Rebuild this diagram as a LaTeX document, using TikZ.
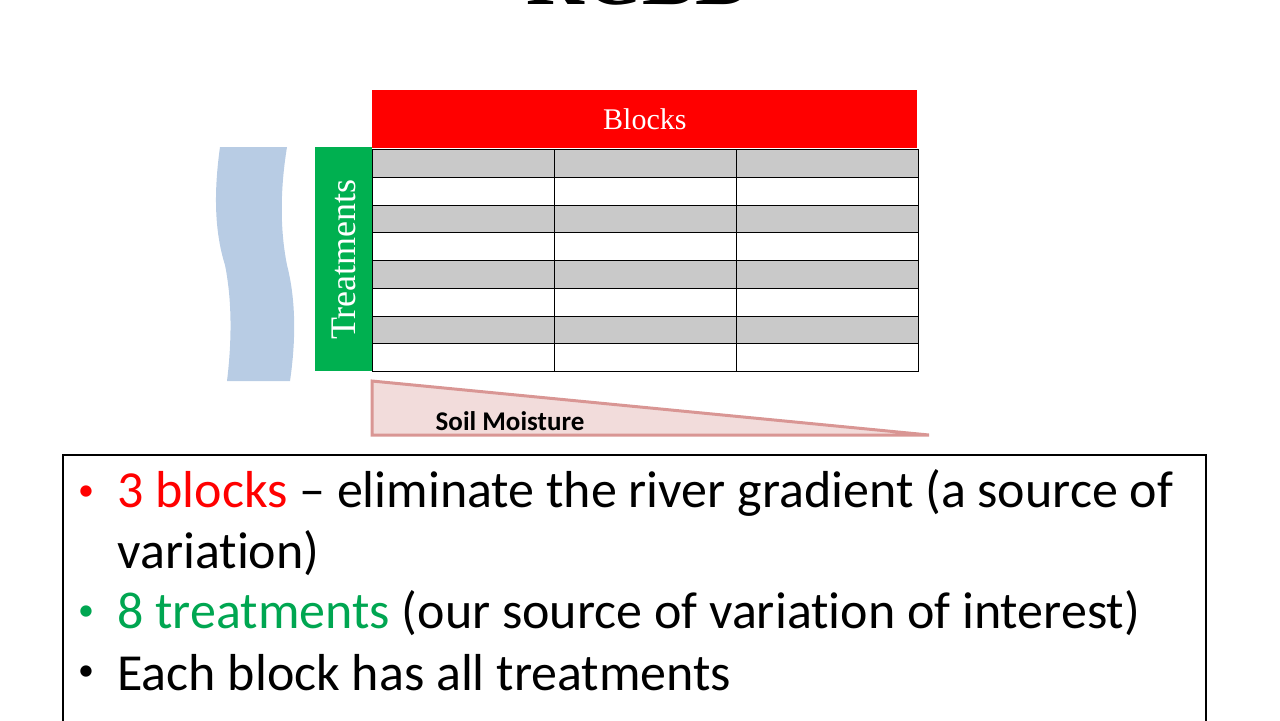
\documentclass[tikz,border=0pt]{standalone}
\usepackage{fontspec}
\setmainfont[Ligatures={NoCommon}]{Carlito}
\newfontfamily\titlefont{Liberation Serif}
\usepackage{tikz}
\definecolor{riverblue}{HTML}{B8CCE4}
\definecolor{cellgray}{HTML}{C9C9C9}
\definecolor{blockred}{HTML}{FF0000}
\definecolor{treatgreen}{HTML}{00B050}
\definecolor{soilfill}{HTML}{F2DCDB}
\definecolor{soilline}{HTML}{D99694}
\definecolor{txtgreen}{HTML}{00A651}
\tikzset{
  cell/.style={draw=black,line width=0.6pt,minimum width=91pt,minimum height=13.875pt,inner sep=0pt,anchor=north west},
  bullet/.style={anchor=west,inner sep=0pt,font=\fontsize{26}{30}\selectfont},
  dot/.style={inner sep=0pt,font=\fontsize{16}{16}\selectfont}
}
\begin{document}
\begin{tikzpicture}[x=0.5pt,y=-0.5pt]
  \useasboundingbox (0,0) rectangle (1280,720);

  \node[font=\titlefont\bfseries\fontsize{40}{40}\selectfont,anchor=south] (title) at (640,12) {RCBD};

  % river
  \fill[riverblue] (220,147) -- (287,147) .. controls (280,190) and (280,230) .. (287,265)
    .. controls (296,300) and (296,340) .. (290,381) -- (227,381)
    .. controls (232,340) and (232,300) .. (225,265)
    .. controls (214,230) and (214,190) .. (220,147) -- cycle;

  \node[fill=blockred,minimum width=272.5pt,minimum height=29pt,inner sep=0pt,anchor=north west,
        text=white,font=\titlefont\fontsize{15}{15}\selectfont] (blocks) at (372,90) {Blocks};
  \node[fill=treatgreen,minimum width=28.5pt,minimum height=112pt,inner sep=0pt,anchor=north west] (treat) at (315,147) {};
  \node[rotate=90,text=white,font=\titlefont\fontsize{18}{18}\selectfont] (treatlbl) at (treat.center) {Treatments};

  % plots
  \foreach \r in {0,...,7} {
    \pgfmathsetmacro{\shade}{mod(\r,2)==0 ? 1 : 0}
    \foreach \c in {0,1,2} {
      \ifnum\shade=1
        \node[cell,fill=cellgray] (p\r\c) at (372+182*\c,149+27.75*\r) {};
      \else
        \node[cell,fill=white] (p\r\c) at (372+182*\c,149+27.75*\r) {};
      \fi
    }
  }

  % soil moisture
  \draw[fill=soilfill,draw=soilline,line width=1.5pt] (372,381) -- (929,435) -- (372,435) -- cycle;
  \node[font=\bfseries\fontsize{13.5}{13.5}\selectfont] (soil) at (510,421) {Soil Moisture};

  % text box
  \draw[line width=1pt] (63,730) -- (63,455) -- (1206,455) -- (1206,730);
  \node[dot,text=blockred] (d1) at (86,493) {•};
  \node[bullet] (b1) at (117,493) {\textcolor{blockred}{3 blocks} – eliminate the river gradient (a source of};
  \node[bullet] (b1b) at (117,553) {variation)};
  \node[dot,text=txtgreen] (d2) at (86,613) {•};
  \node[bullet] (b2) at (117,613) {\textcolor{txtgreen}{8 treatments} (our source of variation of interest)};
  \node[dot] (d3) at (86,673) {•};
  \node[bullet] (b3) at (117,673) {Each block has all treatments};
\end{tikzpicture}
\end{document}
